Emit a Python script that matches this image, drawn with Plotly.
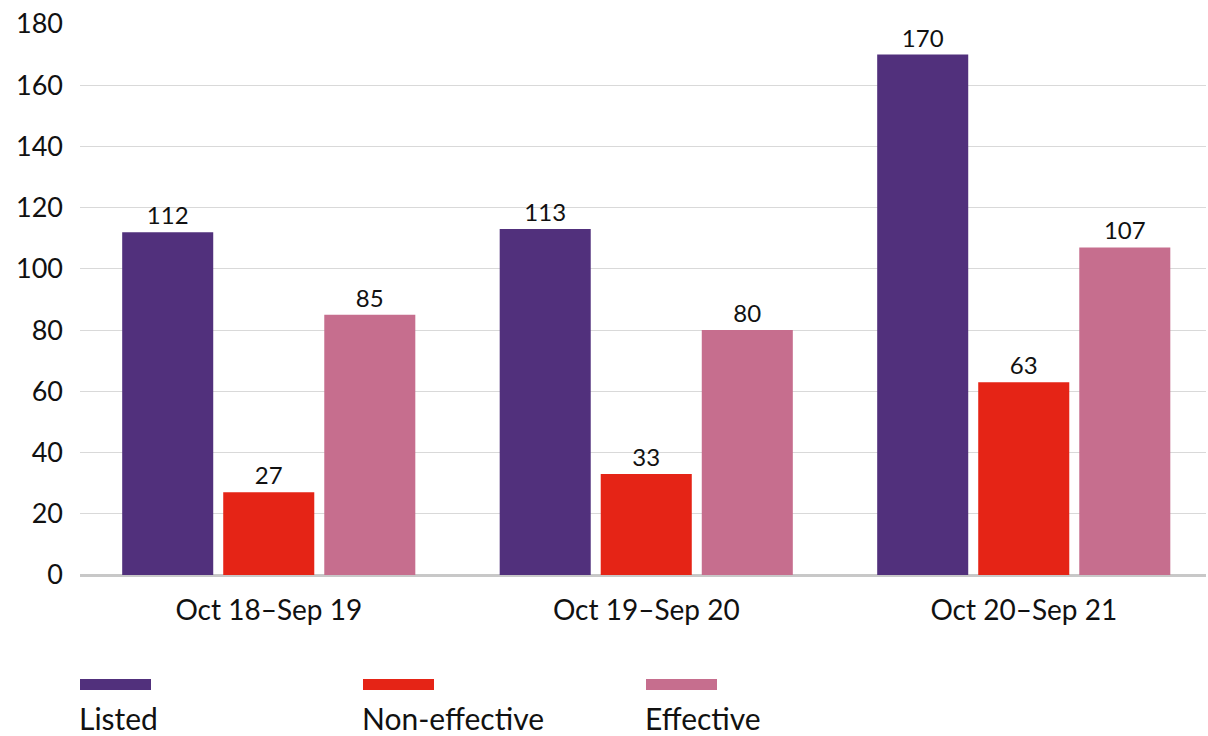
import plotly.graph_objects as go

categories = ["Oct 18–Sep 19", "Oct 19–Sep 20", "Oct 20–Sep 21"]
series_names = ["Listed", "Non-effective", "Effective"]
listed = [112, 113, 170]
non_effective = [27, 33, 63]
effective = [85, 80, 107]
y_ticks = [0, 20, 40, 60, 80, 100, 120, 140, 160, 180]

colors = ["#51307c", "#e52416", "#c66e8e"]
FONT = "Lato"

fig = go.Figure()
for name, vals, col in zip(series_names, [listed, non_effective, effective], colors):
    fig.add_trace(go.Bar(
        x=categories, y=vals, name=name, marker=dict(color=col, line=dict(width=0)),
        text=[str(v) for v in vals], textposition="outside",
        textfont=dict(family=FONT, size=24, color="#111111"),
        cliponaxis=False, showlegend=False,
    ))

W, H = 1208, 736
ml, mr, mt, mb = 80, 2, 24, 161
plot_w = W - ml - mr
plot_h = H - mt - mb
cat_w = 377.5
fig.update_layout(
    width=W, height=H,
    margin=dict(l=ml, r=mr, t=mt, b=mb),
    plot_bgcolor="white", paper_bgcolor="white",
    barmode="group", bargap=0.197, bargroupgap=0.099,
    font=dict(family=FONT, color="#111111"),
    xaxis=dict(showgrid=False, tickfont=dict(family=FONT, size=28, color="#111111"),
               ticks="", ticklabelstandoff=16, showline=False,
               range=[-0.5, -0.5 + plot_w / cat_w]),
    yaxis=dict(range=[0, 180], tickvals=y_ticks, showgrid=True, gridcolor="#d9d9d9",
               gridwidth=1, zeroline=True, zerolinecolor="#c8c8c8", zerolinewidth=3,
               tickfont=dict(family=FONT, size=27, color="#111111"),
               ticklabelstandoff=16, showline=False, ticks=""),
)

# custom legend below chart (swatch above label)
legend_x_px = [80, 363, 646]
for name, col, xp in zip(series_names, colors, legend_x_px):
    x0 = (xp - ml) / plot_w
    x1 = (xp + 71 - ml) / plot_w
    y0 = (H - mb - 690) / plot_h
    y1 = (H - mb - 679) / plot_h
    fig.add_shape(type="rect", xref="paper", yref="paper", x0=x0, x1=x1, y0=y0, y1=y1,
                  fillcolor=col, line=dict(width=0))
    fig.add_annotation(xref="paper", yref="paper", x=(xp - 3 - ml) / plot_w,
                       y=(H - mb - 718) / plot_h, text=name, showarrow=False,
                       xanchor="left", yanchor="middle",
                       font=dict(family=FONT, size=30, color="#111111"))

fig.write_html("out.html")
